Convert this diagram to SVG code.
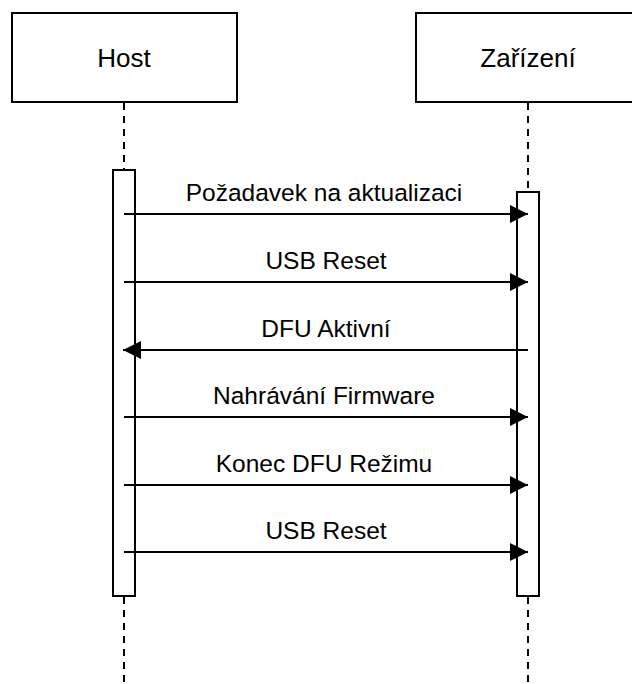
<svg xmlns="http://www.w3.org/2000/svg" width="632" height="684" viewBox="0 0 632 684">
<style>
.actor{fill:#fff;stroke:#000;stroke-width:2}
.actor-text{font-family:"Liberation Sans",Arial,sans-serif;font-size:26px;fill:#000;text-anchor:middle}
.life{stroke:#000;stroke-width:2;stroke-dasharray:7 6;fill:none}
.act{fill:#fff;stroke:#000;stroke-width:2}
.msg{stroke:#000;stroke-width:2;fill:none}
.msg-text{font-family:"Liberation Sans",Arial,sans-serif;font-size:24.5px;fill:#000;text-anchor:middle}
</style>
<defs>
<marker id="arrow" markerUnits="userSpaceOnUse" markerWidth="18" markerHeight="18" refX="18" refY="9" orient="auto">
<path d="M0,0 L18,9 L0,18 z" fill="#000"/>
</marker>
</defs>
<g id="lifelines">
<line class="life" x1="124" y1="103" x2="124" y2="684"/>
<line class="life" x1="528" y1="103" x2="528" y2="684"/>
</g>
<g id="host">
<rect class="actor" x="12" y="13" width="225" height="89"/>
<text class="actor-text" x="124" y="67">Host</text>
</g>
<g id="zarizeni">
<rect class="actor" x="416" y="13" width="225" height="89"/>
<text class="actor-text" x="528" y="67">Zařízení</text>
</g>
<g id="host-activation">
<rect class="act" x="113" y="170" width="22" height="426"/>
</g>
<g id="zarizeni-activation">
<rect class="act" x="517" y="192" width="22" height="404"/>
</g>
<g id="connectors">
<line class="msg" x1="124" y1="214" x2="528" y2="214" marker-end="url(#arrow)"/>
<line class="msg" x1="124" y1="282" x2="528" y2="282" marker-end="url(#arrow)"/>
<line class="msg" x1="528" y1="350" x2="123" y2="350" marker-end="url(#arrow)"/>
<line class="msg" x1="124" y1="417" x2="528" y2="417" marker-end="url(#arrow)"/>
<line class="msg" x1="124" y1="485" x2="528" y2="485" marker-end="url(#arrow)"/>
<line class="msg" x1="124" y1="552" x2="528" y2="552" marker-end="url(#arrow)"/>
</g>
<g id="labels">
<text class="msg-text" x="324" y="201">Požadavek na aktualizaci</text>
<text class="msg-text" x="326" y="269">USB Reset</text>
<text class="msg-text" x="326" y="337">DFU Aktivní</text>
<text class="msg-text" x="324" y="404">Nahrávání Firmware</text>
<text class="msg-text" x="324" y="472">Konec DFU Režimu</text>
<text class="msg-text" x="326" y="539">USB Reset</text>
</g>
</svg>
